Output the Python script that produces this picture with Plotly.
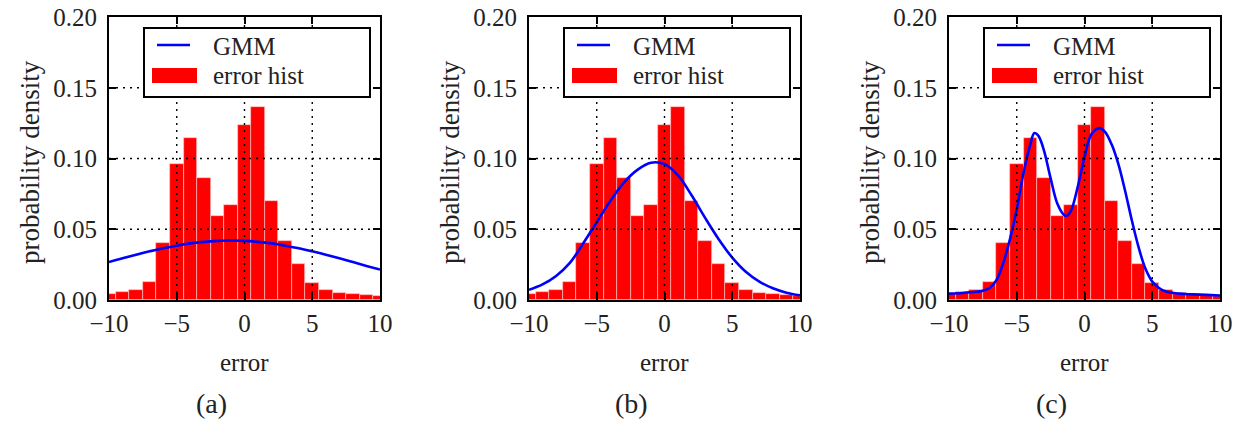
import plotly.graph_objects as go

# ---------------- data ----------------
bin_centers = list(range(-10, 11))
hist_density = [0.0045, 0.0055, 0.0068, 0.0127, 0.0405, 0.0960, 0.1147, 0.0862,
                0.0597, 0.0668, 0.1236, 0.1367, 0.0700, 0.0420, 0.0255, 0.0120,
                0.0068, 0.0048, 0.0040, 0.0034, 0.0030]

gmm_a_x = list(range(-10, 11))
gmm_a_y = [0.0268, 0.0295, 0.0320, 0.0344, 0.0366, 0.0384, 0.0400, 0.0411, 0.0418,
           0.0420, 0.0418, 0.0411, 0.0400, 0.0384, 0.0366, 0.0344, 0.0320, 0.0295,
           0.0268, 0.0241, 0.0215]

gmm_b_x = list(range(-10, 11))
gmm_b_y = [0.0072, 0.011, 0.017, 0.026, 0.040, 0.055, 0.070, 0.083, 0.092, 0.097,
           0.096, 0.088, 0.074, 0.058, 0.043, 0.030, 0.020, 0.013, 0.0083, 0.0052,
           0.0033]

gmm_c_x = [-10, -9, -8, -7.5, -7, -6.5, -6, -5.5, -5, -4.5, -4, -3.7, -3.4, -3,
           -2.5, -2, -1.5, -1.3, -1, -0.5, 0, 0.5, 1.1, 1.5, 2, 2.5, 3, 3.5, 4,
           4.5, 5, 5.5, 6, 7, 8, 9, 10]
gmm_c_y = [0.0045, 0.005, 0.0058, 0.0065, 0.0085, 0.014, 0.026, 0.043, 0.064, 0.090,
           0.110, 0.118, 0.116, 0.106, 0.086, 0.068, 0.0600, 0.0595, 0.063, 0.080,
           0.101, 0.117, 0.1215, 0.119, 0.110, 0.096, 0.077, 0.056, 0.037, 0.022,
           0.013, 0.0085, 0.006, 0.0045, 0.004, 0.0036, 0.0032]

x_tick_vals = [-10, -5, 0, 5, 10]
x_tick_text = ["\u221210", "\u22125", "0", "5", "10"]
y_tick_vals = [0.0, 0.05, 0.10, 0.15, 0.20]
y_tick_text = ["0.00", "0.05", "0.10", "0.15", "0.20"]
x_range = [-10, 10]
y_range = [0, 0.2]
panel_labels = ["(a)", "(b)", "(c)"]
legend_labels = ["GMM", "error hist"]
x_title = "error"
y_title = "probability density"

gmm_x = [gmm_a_x, gmm_b_x, gmm_c_x]
gmm_y = [gmm_a_y, gmm_b_y, gmm_c_y]

# ---------------- layout geometry (pixels) ----------------
W, H = 1242, 433
FONT = "Liberation Serif"
axis_left = [109, 529, 949]
axis_w = 271
axis_top, axis_bottom = 17, 300


def px(xv):
    return xv / W


def py(yv):
    return 1 - yv / H


fig = go.Figure()
shapes = []
annotations = []
layout = {}

for i in range(3):
    n = "" if i == 0 else str(i + 1)
    xa, ya = "x" + n, "y" + n
    fig.add_trace(go.Bar(
        x=bin_centers, y=hist_density, width=1,
        marker=dict(color="#ff0000", line=dict(color="rgba(255,200,200,0.9)", width=0.7)),
        xaxis=xa, yaxis=ya, showlegend=False, name=legend_labels[1],
    ))
    fig.add_trace(go.Scatter(
        x=gmm_x[i], y=gmm_y[i], mode="lines",
        line=dict(color="#0000ff", width=2.6, shape="spline", smoothing=1.0),
        xaxis=xa, yaxis=ya, showlegend=False, name=legend_labels[0],
    ))
    common = dict(
        ticks="inside", ticklen=7, tickwidth=1.5, tickcolor="black",
        showline=True, linewidth=2, linecolor="black", mirror="allticks",
        showgrid=False, zeroline=False, automargin=False,
        tickfont=dict(family=FONT, size=25, color="#222"),
    )
    layout["xaxis" + n] = dict(
        domain=[px(axis_left[i]), px(axis_left[i] + axis_w)],
        anchor=ya, range=x_range, tickmode="array",
        tickvals=x_tick_vals, ticktext=x_tick_text, ticklabelstandoff=0, **common)
    layout["yaxis" + n] = dict(
        domain=[py(axis_bottom), py(axis_top)],
        anchor=xa, range=y_range, tickmode="array",
        tickvals=y_tick_vals, ticktext=y_tick_text, ticklabelstandoff=5, **common)

    grid = dict(color="black", width=1.4, dash="2px,5px")
    for v in x_tick_vals:
        if x_range[0] < v < x_range[1]:
            shapes.append(dict(type="line", xref=xa, yref=ya + " domain", x0=v, x1=v,
                               y0=0, y1=1, line=grid, layer="above"))
    for v in y_tick_vals:
        if y_range[0] < v < y_range[1]:
            shapes.append(dict(type="line", xref=xa + " domain", yref=ya, x0=0, x1=1,
                               y0=v, y1=v, line=grid, layer="above"))

    L = axis_left[i]
    # legend box
    shapes.append(dict(type="rect", xref="paper", yref="paper",
                       x0=px(L + 35), x1=px(L + 261), y0=py(97), y1=py(28),
                       fillcolor="white", line=dict(color="black", width=2), layer="above"))
    shapes.append(dict(type="line", xref="paper", yref="paper",
                       x0=px(L + 48), x1=px(L + 81), y0=py(45), y1=py(45),
                       line=dict(color="#0000ff", width=2.6), layer="above"))
    shapes.append(dict(type="rect", xref="paper", yref="paper",
                       x0=px(L + 43), x1=px(L + 88), y0=py(83), y1=py(68),
                       fillcolor="#ff0000", line=dict(width=0), layer="above"))
    annotations.append(dict(text=legend_labels[0], xref="paper", yref="paper",
                            x=px(L + 102), y=py(46), xanchor="left", yanchor="middle",
                            showarrow=False, font=dict(family=FONT, size=25, color="#222")))
    annotations.append(dict(text=legend_labels[1], xref="paper", yref="paper",
                            x=px(L + 102), y=py(76), xanchor="left", yanchor="middle",
                            showarrow=False, font=dict(family=FONT, size=25, color="#222")))
    # axis titles and panel captions
    annotations.append(dict(text=x_title, xref="paper", yref="paper",
                            x=px(L + axis_w / 2), y=py(362), xanchor="center", yanchor="middle",
                            showarrow=False, font=dict(family=FONT, size=25, color="#222")))
    annotations.append(dict(text=y_title, xref="paper", yref="paper",
                            x=px(L - 79), y=py(162), xanchor="center", yanchor="middle",
                            textangle=-90, showarrow=False,
                            font=dict(family=FONT, size=27, color="#222")))
    annotations.append(dict(text=panel_labels[i], xref="paper", yref="paper",
                            x=px(L + axis_w / 2 - 33), y=py(403), xanchor="center",
                            yanchor="middle", showarrow=False,
                            font=dict(family=FONT, size=28, color="#222")))

fig.update_layout(
    width=W, height=H, autosize=False,
    margin=dict(l=0, r=0, t=0, b=0, pad=0),
    paper_bgcolor="white", plot_bgcolor="white",
    bargap=0, shapes=shapes, annotations=annotations,
    font=dict(family=FONT, color="#222"),
    **layout,
)

fig.write_html("out.html")
